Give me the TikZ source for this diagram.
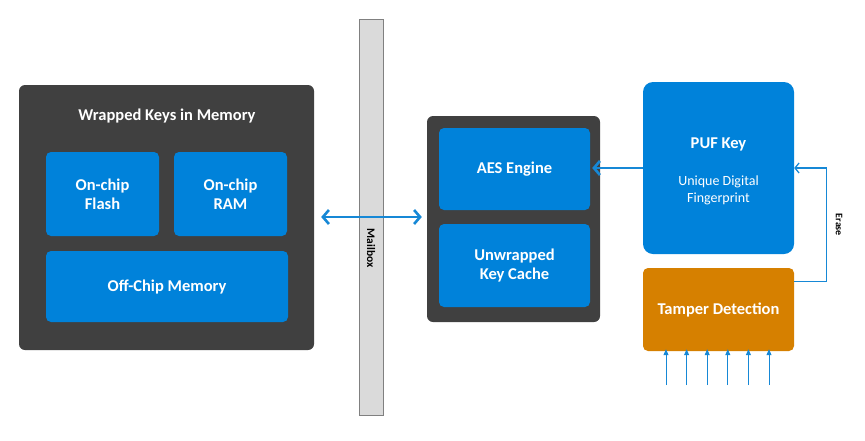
\documentclass[tikz,border=0pt]{standalone}
\usepackage{fontspec}
\setmainfont{Carlito}
\usepackage{xcolor}
\usetikzlibrary{
arrows.meta,
positioning
}
\definecolor{boxgray}{RGB}{64,64,64}
\definecolor{keyblue}{RGB}{0,130,218}
\definecolor{linkblue}{RGB}{22,136,214}
\definecolor{tamperorange}{RGB}{214,128,0}
\definecolor{mailgray}{RGB}{218,218,218}
\newcommand{\keynote}{\mdseries\fontsize{14}{17}\selectfont}

\begin{document}
\begin{tikzpicture}[
    x=1pt, y=-1pt,
    >={Straight Barb[length=6pt,width=14pt]},
    every node/.style={font=\bfseries, text=white, align=center},
    frame/.style={fill=boxgray, rounded corners=6pt},
    block/.style={fill=keyblue, rounded corners=5pt, font=\fontsize{16.5}{19}\selectfont\bfseries},
    link/.style={draw=linkblue, line width=2.6pt},
    sense/.style={draw=linkblue, line width=0.9pt, -{Triangle[length=6pt,width=5pt]}}]
  \useasboundingbox (0,0) rectangle (865,440);
  % memory side
  \node[frame, minimum width=295, minimum height=265] (wrapped) at (166.5,217.5) {};
  \node[font=\fontsize{16.5}{19}\selectfont\bfseries] (title) at (167,116) {Wrapped Keys in Memory};
  \node[block, minimum width=113, minimum height=84] (flash) at (102.5,194) {On-chip\\Flash};
  \node[block, minimum width=113, minimum height=84] (ram) at (230.5,194) {On-chip\\RAM};
  \node[block, minimum width=242, minimum height=71] (offchip) at (167,286.5) {Off-Chip Memory};
  % mailbox
  \node[fill=mailgray, draw=gray, line width=0.6pt, minimum width=24, minimum height=396] (mailbox) at (371,217) {};
  \node[rotate=-90, text=black, font=\fontsize{11.5}{13}\selectfont\bfseries] (mbtext) at (371,248) {Mailbox};
  % key engine
  \node[frame, minimum width=173, minimum height=206] (engine) at (513.5,219) {};
  \node[block, minimum width=151, minimum height=82] (aes) at (514.5,169) {AES Engine};
  \node[block, minimum width=151, minimum height=83] (cache) at (514.5,265.5) {Unwrapped\\Key Cache};
  % key source
  \node[block, rounded corners=10pt, minimum width=151, minimum height=172] (puf) at (718.5,168) {};
  \node[font=\fontsize{16.5}{19}\selectfont\bfseries] (pufname) at (718.5,144) {PUF Key};
  \node[font=\keynote] (pufnote) at (718.5,190.5) {Unique Digital\\Fingerprint};
  \node[block, fill=tamperorange, rounded corners=5pt, minimum width=151, minimum height=83] (tamper) at (718.5,309.5) {Tamper Detection};
  % connectors
  \draw[link, <->] ([xshift=7]wrapped.east |- 0,217) -- ([xshift=-5]engine.west |- 0,217);
  \draw[link, ->] (puf.west) -- ([xshift=2]puf.west -| aes.east);
  \draw[linkblue, line width=1.3pt, -{Straight Barb[length=4pt,width=10pt]}] ([yshift=-14]tamper.north east) -- ++(32,0) |- (puf.east)
      node[pos=0.25, rotate=-90, anchor=south, inner sep=9pt, text=black, font=\fontsize{10}{12}\selectfont\bfseries] (erase) {Erase};
  \foreach \i in {0,...,5} {
    \coordinate (in\i) at (666+20.6*\i,385);
    \draw[sense] (in\i) -- ([yshift=2]in\i |- tamper.south);
  }
\end{tikzpicture}
\end{document}
